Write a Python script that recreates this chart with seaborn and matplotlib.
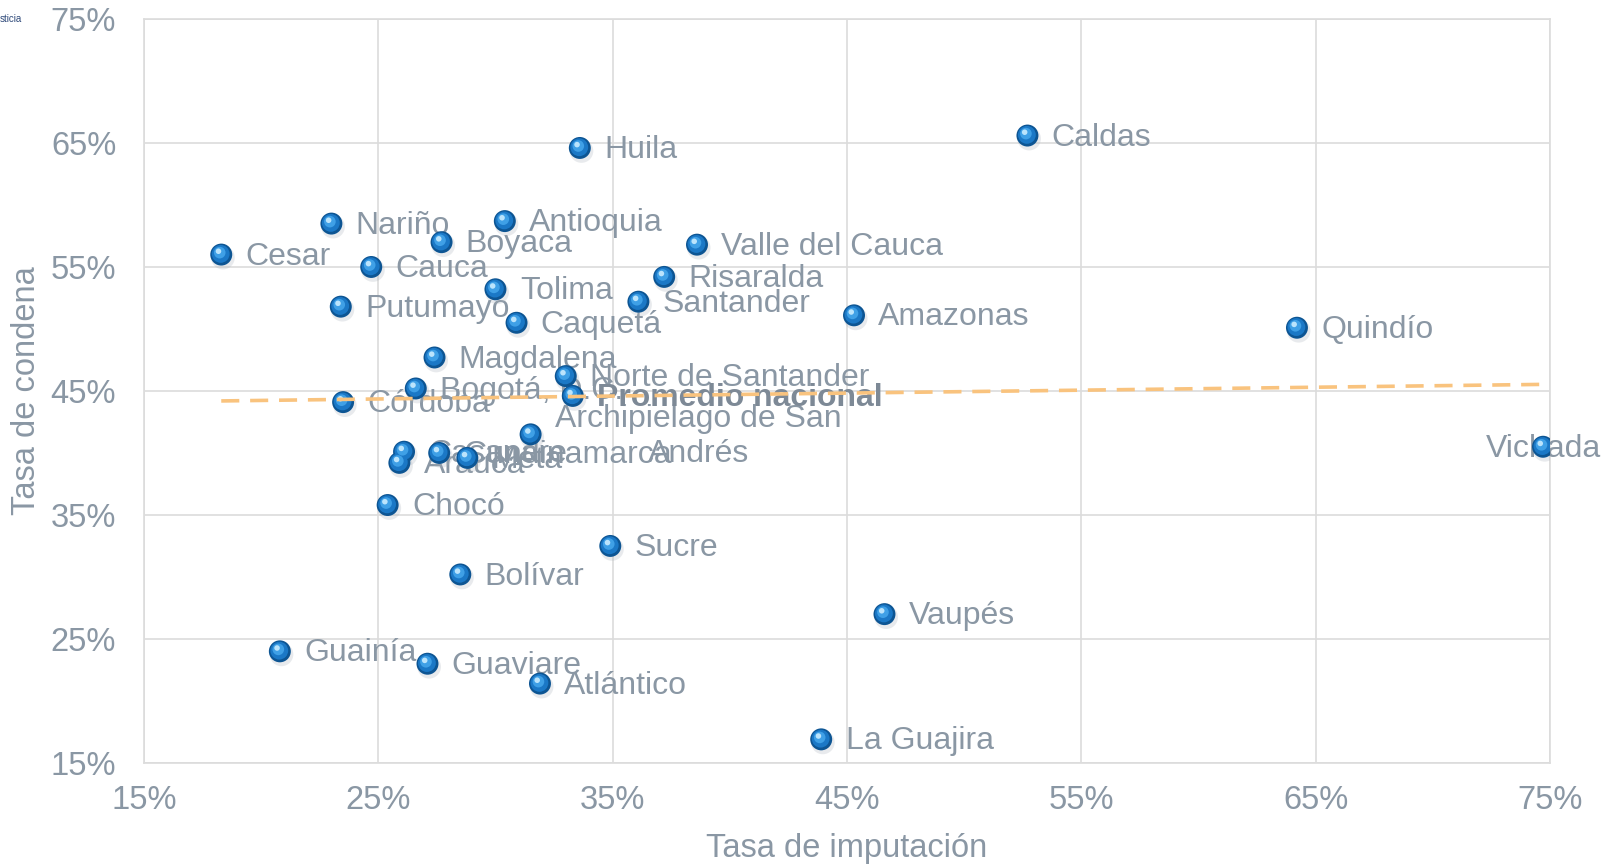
import numpy as np
import pandas as pd
import seaborn as sns
import matplotlib.pyplot as plt
from matplotlib.transforms import offset_copy
from matplotlib.ticker import PercentFormatter

# departments: tasa de imputación (x) and tasa de condena (y), in %
departamentos = ["Huila", "Caldas", "Nariño", "Antioquia", "Boyaca", "Valle del Cauca",
                 "Cesar", "Cauca", "Risaralda", "Tolima", "Santander", "Putumayo",
                 "Amazonas", "Caquetá", "Quindío", "Magdalena", "Norte de Santander",
                 "Bogotá, D.C.", "Córdoba", "Archipielago de San\nAndrés", "Vichada",
                 "Casanare", "Arauca", "Cundinamarca", "Meta", "Chocó", "Sucre",
                 "Bolívar", "Vaupés", "Guainía", "Guaviare", "Atlántico", "La Guajira"]
imputacion = [33.6, 52.7, 23.0, 30.4, 27.7, 38.6,
              18.3, 24.7, 37.2, 30.0, 36.1, 23.4,
              45.3, 30.9, 64.2, 27.4, 33.0,
              26.6, 23.5, 31.5, 74.7,
              26.1, 25.9, 27.6, 28.8, 25.4, 34.9,
              28.5, 46.6, 20.8, 27.1, 31.9, 43.9]
condena = [64.6, 65.6, 58.5, 58.7, 57.0, 56.8,
           56.0, 55.0, 54.2, 53.2, 52.2, 51.8,
           51.1, 50.5, 50.1, 47.7, 46.2,
           45.2, 44.1, 41.5, 40.5,
           40.1, 39.2, 40.0, 39.6, 35.8, 32.5,
           30.2, 27.0, 24.0, 23.0, 21.4, 16.9]

promedio_label = "Promedio nacional"
promedio_x = 33.3
promedio_y = 44.6

ticks = [15, 25, 35, 45, 55, 65, 75]

gray = "#8a97a4"

df = pd.DataFrame({"depto": departamentos, "imputacion": imputacion, "condena": condena})
todos = pd.concat([df, pd.DataFrame({"depto": [promedio_label],
                                     "imputacion": [promedio_x],
                                     "condena": [promedio_y]})], ignore_index=True)

sns.set_style("white")
plt.rcParams["font.family"] = ["Liberation Sans", "DejaVu Sans"]

fig = plt.figure(figsize=(16.17, 8.64), dpi=100)
ax = fig.add_axes([0.089, 0.117, 0.8696, 0.861])

# trend line over the departments (drawn on top, as in the original)
sns.regplot(data=df, x="imputacion", y="condena", scatter=False, ci=None, truncate=True,
            ax=ax, line_kws={"color": "#f9c37e", "lw": 2.6, "ls": (0, (5, 3)), "zorder": 12})

# "3D" balls: shadow, body, shine
layers = [
    dict(s=290, color="#a7afb8", alpha=0.25, dx=1.2, dy=-2.2),
    dict(s=250, color="#0d5593", alpha=1.0, dx=0, dy=0),
    dict(s=165, color="#1b78c6", alpha=1.0, dx=-0.4, dy=0.5),
    dict(s=70, color="#3fa0e6", alpha=1.0, dx=-1.1, dy=1.4),
    dict(s=16, color="#c9ecff", alpha=0.9, dx=-2.0, dy=2.4),
]
for i, lay in enumerate(layers):
    tr = offset_copy(ax.transData, fig=fig, x=lay["dx"], y=lay["dy"], units="points")
    sns.scatterplot(data=todos, x="imputacion", y="condena", s=lay["s"], color=lay["color"],
                    alpha=lay["alpha"], edgecolor="none", linewidth=0, ax=ax,
                    transform=tr, zorder=4 + i, legend=False)

for name, x, y in zip(df["depto"], df["imputacion"], df["condena"]):
    if name == "Vichada":
        ax.annotate(name, (x, y), xytext=(0, -1.5), textcoords="offset points",
                    ha="center", va="center", fontsize=23, color=gray, zorder=3)
    else:
        ax.annotate(name, (x, y), xytext=(17.5, -1.5), textcoords="offset points",
                    ha="left", va="center", fontsize=23, color=gray, zorder=3,
                    multialignment="center")
ax.annotate(promedio_label, (promedio_x, promedio_y), xytext=(17.5, -1.5),
            textcoords="offset points", ha="left", va="center", fontsize=23,
            color="#7d8996", fontweight="bold", zorder=3)

ax.set_xlim(15, 75)
ax.set_ylim(15, 75)
ax.set_xticks(ticks)
ax.set_yticks(ticks)
ax.xaxis.set_major_formatter(PercentFormatter(decimals=0))
ax.yaxis.set_major_formatter(PercentFormatter(decimals=0))
ax.grid(True, color="#dcdcdc", lw=1.2)
ax.set_axisbelow(True)
for sp in ax.spines.values():
    sp.set_color("#dcdcdc")
    sp.set_linewidth(1.2)
ax.tick_params(length=0, labelsize=23.5, labelcolor=gray)
ax.tick_params(axis="x", pad=16)
ax.tick_params(axis="y", pad=20)
ax.set_xlabel("Tasa de imputación", fontsize=23.5, color=gray, labelpad=12)
ax.set_ylabel("Tasa de condena", fontsize=23.5, color=gray, labelpad=6)

fig.text(0.0, 0.978, "sticia", fontsize=7, color="#2f4a7a", va="center")

fig.savefig("out.png", dpi=100)
